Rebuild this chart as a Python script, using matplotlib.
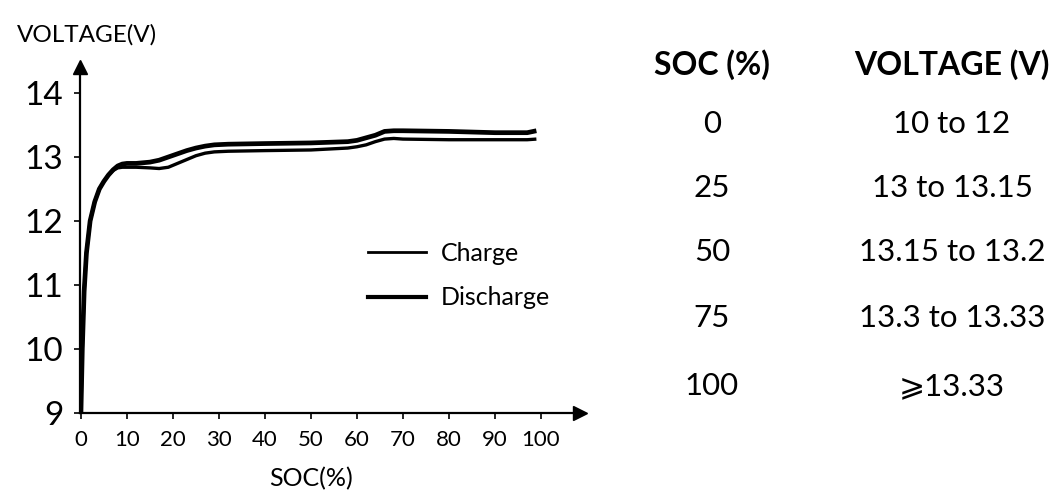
import matplotlib
matplotlib.use("Agg")
import matplotlib.pyplot as plt
from matplotlib.lines import Line2D

plt.rcParams['font.family'] = ['Lato', 'DejaVu Sans']

# ---- data ----
soc = [0, 0.3, 0.7, 1.2, 2, 3, 4, 5, 6, 7, 8, 9, 10, 12, 15, 17, 19, 21, 23, 25,
       27, 29, 32, 40, 50, 58, 60, 62, 64, 66, 68, 70, 80, 90, 97, 99]
discharge_v = [9.0, 10.0, 10.9, 11.5, 12.0, 12.3, 12.5, 12.62, 12.72, 12.8, 12.86,
               12.89, 12.9, 12.9, 12.92, 12.95, 13.0, 13.05, 13.1, 13.14, 13.17,
               13.19, 13.2, 13.21, 13.22, 13.24, 13.26, 13.3, 13.34, 13.4, 13.41,
               13.41, 13.4, 13.38, 13.38, 13.41]
charge_v = [9.0, 10.0, 10.9, 11.5, 12.0, 12.3, 12.5, 12.62, 12.72, 12.79, 12.83,
            12.84, 12.84, 12.84, 12.83, 12.82, 12.84, 12.9, 12.96, 13.02, 13.06,
            13.08, 13.09, 13.1, 13.11, 13.14, 13.16, 13.19, 13.24, 13.28, 13.29,
            13.28, 13.27, 13.27, 13.27, 13.28]
x_ticks = [0, 10, 20, 30, 40, 50, 60, 70, 80, 90, 100]
y_ticks = [9, 10, 11, 12, 13, 14]
legend_labels = ['Charge', 'Discharge']
table_header = ['SOC (%)', 'VOLTAGE (V)']
table_soc = ['0', '25', '50', '75', '100']
table_voltage = ['10 to 12', '13 to 13.15', '13.15 to 13.2', '13.3 to 13.33', '⩾13.33']

W, H = 1052, 495
fig = plt.figure(figsize=(W / 100, H / 100), dpi=100)


def fx(px):
    return px / W


def fy(py):
    return 1 - py / H


ax_l, ax_r, ax_b, ax_t = 80, 580, 413, 67
ax = fig.add_axes([fx(ax_l), fy(ax_b), fx(ax_r) - fx(ax_l), fy(ax_t) - fy(ax_b)])
ax.set_xlim(-0.2, (ax_r - 81) / 4.6)
ax.set_ylim(9, 9 + (ax_b - ax_t) / 64)

ax.plot(soc, charge_v, color='black', lw=2.4, solid_capstyle='butt')
ax.plot(soc, discharge_v, color='black', lw=3.4, solid_capstyle='butt')

for s in ['top', 'right']:
    ax.spines[s].set_visible(False)
for s in ['left', 'bottom']:
    ax.spines[s].set_linewidth(1.6)
    ax.spines[s].set_color('black')

ax.plot(1, 0, '>', color='black', markersize=10, transform=ax.transAxes, clip_on=False)
ax.plot(0, 1, '^', color='black', markersize=10, transform=ax.transAxes, clip_on=False)

ax.set_xticks(x_ticks)
ax.set_xticklabels([str(t) for t in x_ticks])
ax.set_yticks(y_ticks)
ax.set_yticklabels([str(t) for t in y_ticks])
ax.tick_params(axis='x', direction='out', length=4, width=1.2, labelsize=16, pad=8)
ax.tick_params(axis='y', direction='out', length=4, width=1.2, labelsize=24, pad=8)

fig.text(fx(87), fy(35), 'VOLTAGE(V)', fontsize=17.5, ha='center', va='center')
fig.text(fx(311), fy(479), 'SOC(%)', fontsize=18, ha='center', va='center')

handles = [Line2D([], [], color='black', lw=2.0), Line2D([], [], color='black', lw=3.0)]
fig.legend(handles, legend_labels, loc='upper left',
           bbox_to_anchor=(fx(368), fy(242)), bbox_transform=fig.transFigure,
           frameon=False, fontsize=18, handlelength=2.3, handletextpad=0.6,
           labelspacing=0.85, borderpad=0, borderaxespad=0)

col_x = [712, 952]
fig.text(fx(col_x[0]), fy(65), table_header[0], fontsize=23, fontweight='bold',
         ha='center', va='center')
fig.text(fx(col_x[1]), fy(65), table_header[1], fontsize=23, fontweight='bold',
         ha='center', va='center')
row_y = [124, 188, 252, 318, 386]
for y, s, v in zip(row_y, table_soc, table_voltage):
    fig.text(fx(col_x[0]), fy(y), s, fontsize=22.5, ha='center', va='center')
    fig.text(fx(col_x[1]), fy(y), v, fontsize=22.5, ha='center', va='center')

fig.savefig('out.png', dpi=100)
